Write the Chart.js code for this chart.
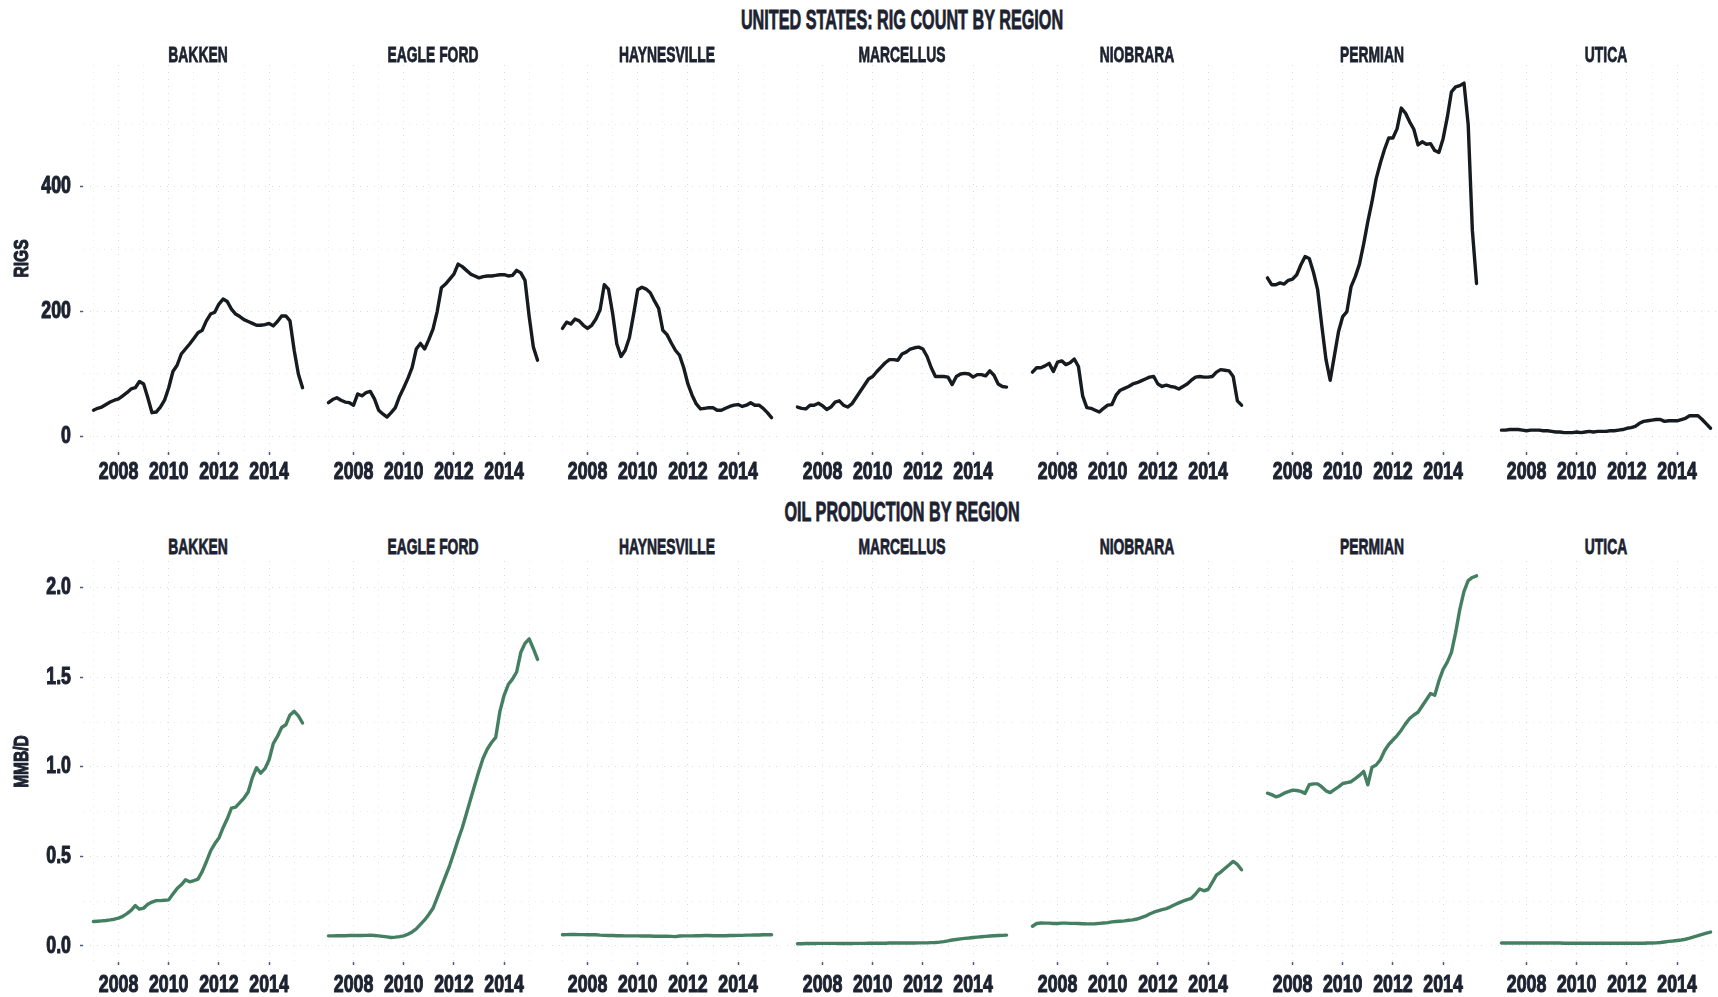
<!DOCTYPE html>
<html>
<head>
<meta charset="utf-8">
<title>Rig count and oil production by region</title>
<script src="https://cdn.jsdelivr.net/npm/chart.js@4.4.1/dist/chart.umd.min.js"></script>
<style>
  html, body { margin: 0; padding: 0; background: #fff; }
  body { position: relative; width: 1718px; height: 997px; overflow: hidden;
         font-family: "Liberation Sans", Arial, sans-serif; color: #1c2230; }
  canvas { position: absolute; }
  .lbl { position: absolute; text-align: center; font-weight: bold; white-space: nowrap;
         -webkit-text-stroke: 0.8px #1c2230; }
  .title { transform: scaleX(0.6); }
  .strip { transform: scaleX(0.63); }
</style>
</head>
<body>
<script>
// monthly samples, every other month
const dates = [
  '2007-01','2007-03','2007-05','2007-07','2007-09','2007-11',
  '2008-01','2008-03','2008-05','2008-07','2008-09','2008-11',
  '2009-01','2009-03','2009-05','2009-07','2009-09','2009-11',
  '2010-01','2010-03','2010-05','2010-07','2010-09','2010-11',
  '2011-01','2011-03','2011-05','2011-07','2011-09','2011-11',
  '2012-01','2012-03','2012-05','2012-07','2012-09','2012-11',
  '2013-01','2013-03','2013-05','2013-07','2013-09','2013-11',
  '2014-01','2014-03','2014-05','2014-07','2014-09','2014-11',
  '2015-01','2015-03','2015-05'
];

const regions = ['BAKKEN', 'EAGLE FORD', 'HAYNESVILLE', 'MARCELLUS', 'NIOBRARA', 'PERMIAN', 'UTICA'];

// rig counts
const rigBakken = [
  42, 45, 47, 51, 55, 58,   60, 65, 70, 76, 78, 88,   84, 62, 38, 39, 47, 58,
  78, 104, 114, 132, 140, 148,   157, 166, 170, 185, 196, 199,   212, 220, 216, 204, 196, 192,
  187, 184, 181, 178, 178, 179,   181, 177, 184, 193, 193, 185,   138, 100, 78
];
const rigEagleFord = [
  54, 59, 62, 58, 55, 54,   50, 68, 65, 70, 72, 60,   42, 36, 31, 38, 46, 64,
  78, 93, 110, 140, 149, 140,   155, 172, 200, 238, 244, 252,   260, 276, 272, 266, 260, 257,
  254, 256, 257, 257, 258, 259,   259, 257, 258, 266, 262, 250,   192, 143, 122
];
const rigHaynesville = [
  173, 183, 180, 188, 185, 178,   173, 178, 188, 203, 243, 236,   197, 148, 128, 138, 158, 195,
  235, 239, 236, 230, 217, 205,   170, 163, 150, 138, 130, 110,   84, 66, 52, 44, 45, 46,
  46, 42, 42, 45, 48, 50,   51, 48, 50, 54, 50, 50,   45, 38, 30
];
const rigMarcellus = [
  47, 45, 44, 50, 50, 53,   49, 43, 47, 55, 57, 50,   47, 52, 62, 72, 82, 92,
  96, 104, 111, 118, 123, 123,   122, 132, 135, 140, 142, 143,   140, 128, 110, 96, 96, 96,
  95, 83, 96, 100, 101, 100,   95, 99, 99, 97, 105, 98,   84, 80, 79
];
const rigNiobrara = [
  103, 110, 110, 113, 117, 104,   119, 121, 115, 118, 124, 112,   65, 46, 45, 42, 39, 45,
  50, 51, 66, 74, 77, 80,   84, 86, 89, 92, 95, 96,   84, 80, 82, 80, 79, 76,
  80, 84, 90, 95, 96, 95,   95, 96, 103, 107, 106, 105,   96, 57, 50
];
const rigPermian = [
  254, 243, 243, 246, 244, 250,   252, 259, 275, 288, 285, 263,   235, 177, 123, 90, 129, 168,
  192, 200, 240, 256, 276, 308,   344, 376, 413, 438, 460, 478,   478, 493, 526, 518, 504, 492,
  467, 472, 468, 469, 458, 455,   477, 511, 552, 560, 562, 566,   500, 330, 245
];
const rigUtica = [
  10, 10, 11, 11, 11, 10,   9, 10, 10, 10, 9, 9,   8, 7, 7, 6, 6, 6,
  7, 6, 7, 8, 7, 8,   8, 8, 9, 9, 10, 11,   13, 14, 16, 21, 24, 25,
  26, 27, 27, 24, 25, 25,   25, 27, 29, 33, 33, 33,   27, 20, 13
];

// oil production, million barrels per day
const oilBakken = [
  0.136, 0.138, 0.140, 0.142, 0.145, 0.149,   0.155, 0.165, 0.180, 0.198, 0.225, 0.205,
  0.211, 0.232, 0.245, 0.253, 0.253, 0.255,   0.257, 0.290, 0.320, 0.341, 0.369, 0.358,
  0.365, 0.373, 0.415, 0.470, 0.530, 0.570,   0.602, 0.660, 0.710, 0.770, 0.775, 0.800,
  0.826, 0.860, 0.940, 0.995, 0.965, 0.990,   1.040, 1.130, 1.170, 1.220, 1.235, 1.290,
  1.310, 1.285, 1.245
];
const oilEagleFord = [
  0.056, 0.056, 0.057, 0.057, 0.057, 0.058,   0.058, 0.058, 0.058, 0.059, 0.060, 0.058,
  0.056, 0.053, 0.050, 0.047, 0.049, 0.052,   0.056, 0.065, 0.078, 0.095, 0.120, 0.145,
  0.175, 0.210, 0.270, 0.330, 0.390, 0.450,   0.520, 0.593, 0.660, 0.740, 0.820, 0.900,
  0.978, 1.050, 1.100, 1.136, 1.165, 1.310,   1.400, 1.460, 1.490, 1.530, 1.640, 1.690,
  1.715, 1.660, 1.600
];
const oilHaynesville = [
  0.062, 0.063, 0.064, 0.064, 0.063, 0.063,   0.062, 0.063, 0.062, 0.060, 0.059, 0.058,
  0.058, 0.057, 0.057, 0.056, 0.056, 0.056,   0.056, 0.055, 0.055, 0.055, 0.054, 0.054,
  0.054, 0.054, 0.053, 0.052, 0.055, 0.056,   0.056, 0.056, 0.057, 0.057, 0.058, 0.058,
  0.057, 0.057, 0.057, 0.057, 0.058, 0.058,   0.059, 0.059, 0.060, 0.060, 0.061, 0.061,
  0.062, 0.062, 0.062
];
const oilMarcellus = [
  0.012, 0.012, 0.013, 0.013, 0.013, 0.014,   0.014, 0.014, 0.014, 0.014, 0.013, 0.013,
  0.013, 0.013, 0.014, 0.014, 0.014, 0.015,   0.015, 0.015, 0.015, 0.015, 0.016, 0.016,
  0.016, 0.016, 0.016, 0.016, 0.016, 0.017,   0.017, 0.017, 0.018, 0.019, 0.021, 0.024,
  0.028, 0.033, 0.036, 0.039, 0.042, 0.044,   0.047, 0.049, 0.051, 0.053, 0.055, 0.057,
  0.058, 0.059, 0.060
];
const oilNiobrara = [
  0.110, 0.125, 0.128, 0.127, 0.127, 0.125,   0.125, 0.127, 0.127, 0.126, 0.126, 0.125,
  0.124, 0.123, 0.123, 0.124, 0.126, 0.128,   0.130, 0.134, 0.136, 0.138, 0.140, 0.143,
  0.145, 0.150, 0.158, 0.166, 0.178, 0.188,   0.195, 0.202, 0.208, 0.218, 0.230, 0.240,
  0.250, 0.258, 0.266, 0.290, 0.318, 0.308,   0.315, 0.355, 0.395, 0.412, 0.432, 0.452,
  0.472, 0.455, 0.425
];
const oilPermian = [
  0.853, 0.845, 0.833, 0.840, 0.853, 0.862,   0.870, 0.868, 0.863, 0.852, 0.900, 0.905,
  0.905, 0.888, 0.866, 0.856, 0.873, 0.888,   0.907, 0.912, 0.917, 0.934, 0.952, 0.975,
  0.900, 0.998, 1.010, 1.040, 1.090, 1.125,   1.150, 1.175, 1.205, 1.240, 1.270, 1.290,
  1.305, 1.340, 1.375, 1.410, 1.400, 1.480,   1.545, 1.585, 1.640, 1.750, 1.880, 1.980,
  2.040, 2.058, 2.067
];
const oilUtica = [
  0.016, 0.016, 0.016, 0.016, 0.016, 0.016,   0.016, 0.016, 0.016, 0.016, 0.016, 0.016,
  0.016, 0.016, 0.016, 0.015, 0.015, 0.015,   0.015, 0.015, 0.015, 0.015, 0.015, 0.015,
  0.015, 0.015, 0.015, 0.015, 0.015, 0.015,   0.015, 0.015, 0.015, 0.015, 0.015, 0.016,
  0.016, 0.017, 0.019, 0.022, 0.025, 0.027,   0.030, 0.033, 0.037, 0.043, 0.050, 0.057,
  0.064, 0.071, 0.077
];

const yearTicks = [2008, 2010, 2012, 2014];
const rigTicks = [0, 200, 400];
const oilTicks = [0, 0.5, 1.0, 1.5, 2.0];

const rigSeries = [rigBakken, rigEagleFord, rigHaynesville, rigMarcellus, rigNiobrara, rigPermian, rigUtica];
const oilSeries = [oilBakken, oilEagleFord, oilHaynesville, oilMarcellus, oilNiobrara, oilPermian, oilUtica];

// ---- look ----
const FONT = '"Liberation Sans", Arial, sans-serif';
const TEXT = '#1c2230';
const TICK = '#4d5a85';
const GRID_MAJOR = 'rgba(90, 100, 150, 0.24)';
const GRID_MINOR = 'rgba(90, 100, 150, 0.13)';
const TEXT_SQUEEZE = 0.74;   // condensed look for axis text
const TEXT_WEIGHT = 1.1;     // extra outline so the narrowed glyphs stay heavy

const PLOT_LEFT = 83;
const PANEL_STEP = 234.7;
const PLOT_W = 230;
const Y_AXIS_W = 83;
const X_AXIS_H = 40;

const rows = [
  { title: 'UNITED STATES: RIG COUNT BY REGION', titleY: 20, stripY: 55, top: 65, bottom: 452, xPad: 3,
    min: -25, max: 595, step: 100, ticks: rigTicks, axisTitle: 'RIGS', color: '#161b20',
    series: rigSeries, fmt: v => String(v) },
  { title: 'OIL PRODUCTION BY REGION', titleY: 512, stripY: 547, top: 561, bottom: 962, xPad: 6,
    min: -0.09, max: 2.15, step: 0.25, ticks: oilTicks, axisTitle: 'MMB/D', color: '#457f62',
    series: oilSeries, fmt: v => v.toFixed(1) }
];

Chart.defaults.font.family = FONT;
Chart.defaults.color = TEXT;

// decimal years for the linear x scale
const years = dates.map(d => {
  const [y, m] = d.split('-').map(Number);
  return y + (m - 1) / 12;
});
const span = years[years.length - 1] - years[0];
const xMin = years[0] - span * 0.05;
const xMax = years[years.length - 1] + span * 0.05;

const inList = (v, list) => list.some(m => Math.abs(m - v) < 1e-6);

// narrow and thicken every string the chart writes, keeping its anchor point
function squeezeText(ctx) {
  const fill = ctx.fillText;
  const stroke = ctx.strokeText;
  ctx.fillText = function (text, x, y, maxWidth) {
    this.save();
    this.translate(x, y);
    this.scale(TEXT_SQUEEZE, 1);
    this.lineWidth = TEXT_WEIGHT;
    this.lineJoin = 'round';
    this.strokeStyle = this.fillStyle;
    const mw = maxWidth === undefined ? [] : [maxWidth / TEXT_SQUEEZE];
    stroke.call(this, text, 0, 0, ...mw);
    fill.call(this, text, 0, 0, ...mw);
    this.restore();
  };
}

function addText(text, cls, left, width, centerY, size) {
  const d = document.createElement('div');
  d.className = 'lbl ' + cls;
  d.textContent = text;
  d.style.left = left + 'px';
  d.style.width = width + 'px';
  d.style.top = (centerY - size / 2) + 'px';
  d.style.fontSize = size + 'px';
  d.style.lineHeight = size + 'px';
  document.body.appendChild(d);
}

function drawPanel(row, k) {
  const first = k === 0;
  const plotLeft = Math.round(PLOT_LEFT + k * PANEL_STEP);
  const yw = first ? Y_AXIS_W : 0;
  const plotH = row.bottom - row.top;

  const canvas = document.createElement('canvas');
  canvas.width = PLOT_W + yw;
  canvas.height = plotH + X_AXIS_H;
  canvas.style.left = (plotLeft - yw) + 'px';
  canvas.style.top = row.top + 'px';
  document.body.appendChild(canvas);
  squeezeText(canvas.getContext('2d'));

  const values = row.series[k];

  new Chart(canvas, {
    type: 'line',
    data: {
      datasets: [{
        data: years.map((x, i) => ({ x: x, y: values[i] })),
        borderColor: row.color,
        borderWidth: 3.4,
        borderJoinStyle: 'round',
        borderCapStyle: 'round',
        pointRadius: 0,
        tension: 0,
        fill: false,
        clip: false
      }]
    },
    options: {
      responsive: false,
      animation: false,
      events: [],
      layout: { padding: 0, autoPadding: false },
      plugins: { legend: { display: false }, tooltip: { enabled: false } },
      scales: {
        x: {
          type: 'linear',
          min: xMin,
          max: xMax,
          afterFit: s => { s.height = X_AXIS_H; s.paddingLeft = 0; s.paddingRight = 0; },
          border: { display: false, dash: [1, 6] },
          grid: {
            color: c => inList(c.tick.value, yearTicks) ? GRID_MAJOR : GRID_MINOR,
            lineWidth: 1,
            drawTicks: true,
            tickLength: 3,
            tickWidth: 1.5,
            tickColor: c => inList(c.tick.value, yearTicks) ? TICK : 'rgba(0,0,0,0)'
          },
          ticks: {
            stepSize: 1,
            includeBounds: false,
            autoSkip: false,
            maxRotation: 0,
            padding: row.xPad,
            color: TEXT,
            font: { size: 24, weight: 'bold' },
            callback: v => inList(v, yearTicks) ? String(v) : ''
          }
        },
        y: {
          type: 'linear',
          min: row.min,
          max: row.max,
          afterFit: s => { s.width = yw; s.paddingTop = 0; s.paddingBottom = 0; },
          border: { display: false, dash: [1, 6] },
          grid: {
            color: c => inList(c.tick.value, row.ticks) ? GRID_MAJOR : GRID_MINOR,
            lineWidth: 1,
            drawTicks: first,
            tickLength: 3,
            tickWidth: 1.5,
            tickColor: c => inList(c.tick.value, row.ticks) ? TICK : 'rgba(0,0,0,0)'
          },
          ticks: {
            display: first,
            stepSize: row.step,
            includeBounds: false,
            autoSkip: false,
            padding: 9,
            color: TEXT,
            font: { size: 24, weight: 'bold' },
            callback: v => inList(v, row.ticks) ? row.fmt(v) : ''
          },
          title: {
            display: first,
            text: row.axisTitle,
            color: TEXT,
            font: { size: 21, weight: 'bold' },
            padding: { top: 10, bottom: 0 }
          }
        }
      }
    }
  });

  addText(regions[k], 'strip', plotLeft, PLOT_W, row.stripY, 22);
}

rows.forEach(row => {
  const fullWidth = Math.round(PLOT_LEFT + 6 * PANEL_STEP) + PLOT_W - PLOT_LEFT;
  addText(row.title, 'title', PLOT_LEFT, fullWidth, row.titleY, 27);
  regions.forEach((_, k) => drawPanel(row, k));
});
</script>
</body>
</html>
